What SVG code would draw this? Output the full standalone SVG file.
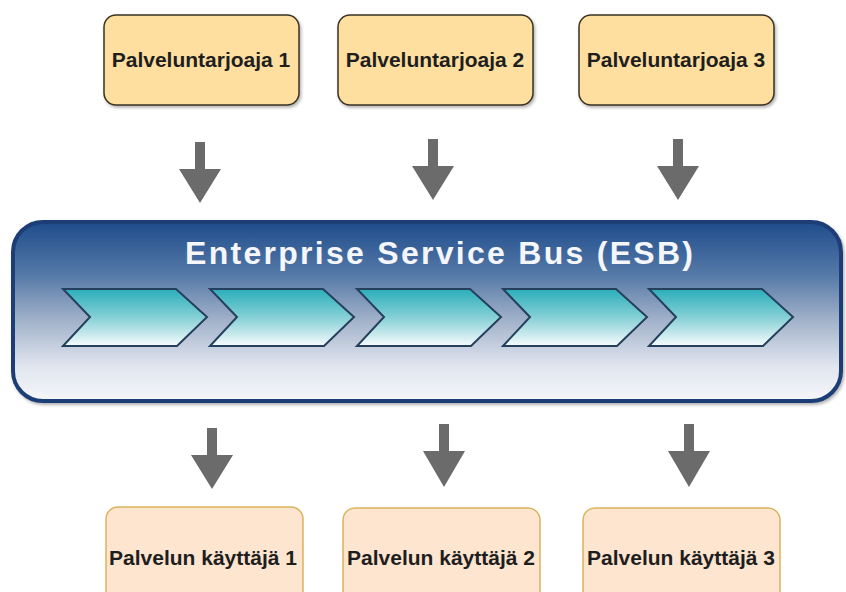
<svg xmlns="http://www.w3.org/2000/svg" xmlns:xlink="http://www.w3.org/1999/xlink" width="846" height="592" viewBox="0 0 846 592">
<defs>
<style>
.prov{fill:#ffdf9f;stroke:#3a3124;stroke-width:1.5}
.cons{fill:#fde5cf;stroke:#dcb25c;stroke-width:1.5}
.lbl{font-family:"Liberation Sans",Arial,sans-serif;font-weight:bold;font-size:21px;fill:#1e1e1e;text-anchor:middle}
.esbt{font-family:"Liberation Sans",Arial,sans-serif;font-weight:bold;font-size:32px;fill:#f4f6fa;text-anchor:middle}
.arr{fill:#6b6b6b}
.chev{fill:url(#chevg);stroke:#25405c;stroke-width:2;stroke-linejoin:miter}
</style>
<linearGradient id="busg" x1="0" y1="0" x2="0" y2="1">
<stop offset="0" stop-color="#1f4c8c"/>
<stop offset="0.3" stop-color="#567aa8"/>
<stop offset="0.55" stop-color="#a2b2ca"/>
<stop offset="0.8" stop-color="#dfe4ee"/>
<stop offset="1" stop-color="#f6f7fa"/>
</linearGradient>
<linearGradient id="chevg" x1="0" y1="0" x2="0" y2="1">
<stop offset="0" stop-color="#2aaebb"/>
<stop offset="0.5" stop-color="#86d0d6"/>
<stop offset="1" stop-color="#f6fbfc"/>
</linearGradient>
<filter id="sh" x="-10%" y="-10%" width="130%" height="130%">
<feDropShadow dx="1.5" dy="2" stdDeviation="1.5" flood-color="#000" flood-opacity="0.3"/>
</filter>
<path id="chev" d="M0,289 H113 L144,317 L114,346 H0 L27,317 Z"/>
</defs>
<rect width="846" height="592" fill="#ffffff"/>

<g id="provider1"><rect class="prov" x="104" y="15" width="195" height="90" rx="12" filter="url(#sh)"/><text class="lbl" x="201" y="67">Palveluntarjoaja 1</text></g>
<g id="provider2"><rect class="prov" x="338" y="15" width="195" height="90" rx="12" filter="url(#sh)"/><text class="lbl" x="435" y="67">Palveluntarjoaja 2</text></g>
<g id="provider3"><rect class="prov" x="579" y="15" width="195" height="90" rx="12" filter="url(#sh)"/><text class="lbl" x="676" y="67">Palveluntarjoaja 3</text></g>

<g id="esb">
<rect x="13" y="222" width="828" height="179" rx="30" fill="url(#busg)" stroke="#1c3e75" stroke-width="4" filter="url(#sh)"/>
<text class="esbt" x="439" y="264" textLength="508" lengthAdjust="spacing">Enterprise Service Bus (ESB)</text>
<use xlink:href="#chev" class="chev" x="63"/>
<use xlink:href="#chev" class="chev" x="210"/>
<use xlink:href="#chev" class="chev" x="357"/>
<use xlink:href="#chev" class="chev" x="503"/>
<use xlink:href="#chev" class="chev" x="649"/>
</g>

<g id="consumer1"><rect class="cons" x="106" y="507" width="197" height="100" rx="12"/><text class="lbl" x="203" y="565">Palvelun käyttäjä 1</text></g>
<g id="consumer2"><rect class="cons" x="343" y="508" width="197" height="100" rx="12"/><text class="lbl" x="441" y="565">Palvelun käyttäjä 2</text></g>
<g id="consumer3"><rect class="cons" x="583" y="508" width="197" height="100" rx="12"/><text class="lbl" x="681" y="565">Palvelun käyttäjä 3</text></g>

<g id="connectors" class="arr">
<path d="M195,142 h10 v27 h16 L200,203 L179,169 h16 z"/>
<path d="M428,139 h10 v27 h16 L433,200 L412,166 h16 z"/>
<path d="M673,139 h10 v27 h16 L678,200 L657,166 h16 z"/>
<path d="M207,428 h10 v27 h16 L212,489 L191,455 h16 z"/>
<path d="M439,424 h10 v27 h16 L444,487 L423,451 h16 z"/>
<path d="M684,424 h10 v27 h16 L689,487 L668,451 h16 z"/>
</g>
</svg>
